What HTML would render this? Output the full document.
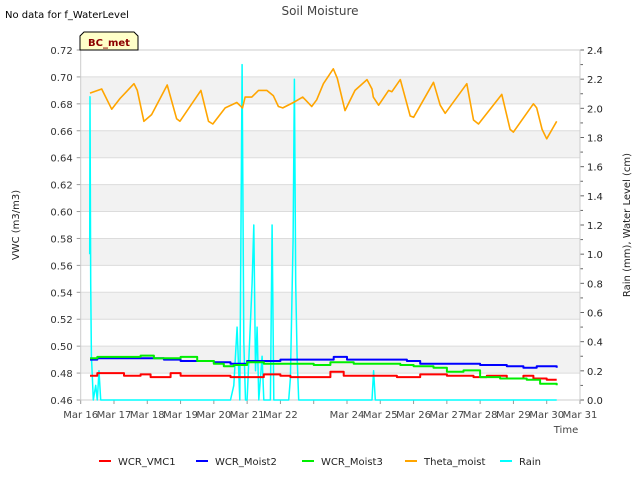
<!DOCTYPE html>
<html><head><meta charset="utf-8"><style>
body{margin:0;background:#fff;}
svg text{font-family:"DejaVu Sans","Liberation Sans",sans-serif;}
</style></head><body>
<svg id="c" width="640" height="480" xmlns="http://www.w3.org/2000/svg">
<text x="5" y="18" font-size="10" fill="#000">No data for f_WaterLevel</text>
<text x="320" y="15" font-size="12" fill="#444" text-anchor="middle">Soil Moisture</text>
<g id="plot"></g>
<text x="19" y="225" font-size="10" fill="#222" text-anchor="middle" transform="rotate(-90 19 225)">VWC (m3/m3)</text>
<text x="630" y="225" font-size="10" fill="#222" text-anchor="middle" transform="rotate(-90 630 225)">Rain (mm), Water Level (cm)</text>
<text x="566" y="433" font-size="10" fill="#444" text-anchor="middle">Time</text>
<g>
<path d="M80,50 L80,36 L84,32 L134,32 L138,36 L138,50 Z" fill="#ffffc8" stroke="#000" stroke-width="1"/>
<text x="109" y="46" font-size="10" font-weight="bold" fill="#8b0000" text-anchor="middle">BC_met</text>
</g>
<g id="legend"></g>
</svg>
<script>
const vwcTicks=[0.46,0.48,0.50,0.52,0.54,0.56,0.58,0.60,0.62,0.64,0.66,0.68,0.70,0.72];
const rainTicks=[0.0,0.2,0.4,0.6,0.8,1.0,1.2,1.4,1.6,1.8,2.0,2.2,2.4];
const dayLabels=["Mar 16","Mar 17","Mar 18","Mar 19","Mar 20","Mar 21","Mar 22","","Mar 24","Mar 25","Mar 26","Mar 27","Mar 28","Mar 29","Mar 30","Mar 31"];
const thetaT=[0.28,0.63,0.93,1.18,1.6,1.7,1.9,2.13,2.6,2.88,2.98,3.61,3.84,3.97,4.34,4.69,4.86,4.94,5.14,5.34,5.59,5.79,5.94,6.07,6.39,6.67,6.79,6.94,7.09,7.29,7.59,7.71,7.94,8.24,8.6,8.75,8.79,8.95,9.25,9.35,9.6,9.9,10.0,10.6,10.8,10.95,11.6,11.8,11.95,12.65,12.9,13.0,13.6,13.7,13.86,14.0,14.3];
const thetaV=[0.688,0.691,0.676,0.684,0.695,0.690,0.667,0.672,0.694,0.669,0.667,0.690,0.667,0.665,0.677,0.681,0.677,0.685,0.685,0.690,0.690,0.686,0.678,0.677,0.681,0.685,0.682,0.678,0.683,0.695,0.706,0.699,0.675,0.690,0.698,0.691,0.685,0.679,0.690,0.689,0.698,0.671,0.670,0.696,0.679,0.673,0.695,0.668,0.665,0.687,0.661,0.659,0.680,0.677,0.661,0.654,0.667];
const vmc1T=[0.28,0.5,1.3,1.8,2.1,2.7,3.0,3.9,4.5,5.5,6.0,6.3,7.5,7.9,8.5,9.5,10.2,11.0,11.8,12.2,12.8,13.3,13.6,14.0,14.3];
const vmc1V=[0.478,0.480,0.478,0.479,0.477,0.480,0.478,0.478,0.477,0.479,0.478,0.477,0.481,0.478,0.478,0.477,0.479,0.478,0.477,0.478,0.476,0.478,0.476,0.475,0.475];
const moist2T=[0.28,0.5,2.0,2.5,3.0,4.0,4.5,5.0,6.0,7.4,7.6,8.0,9.0,9.8,10.2,11.0,12.0,12.8,13.3,13.7,14.3];
const moist2V=[0.490,0.491,0.491,0.490,0.489,0.488,0.487,0.489,0.490,0.490,0.492,0.490,0.490,0.489,0.487,0.487,0.486,0.485,0.484,0.485,0.484];
const moist3T=[0.28,0.5,1.5,1.8,2.2,3.0,3.5,4.0,4.3,4.6,5.0,5.5,6.0,7.0,7.5,8.2,9.0,9.6,10.0,10.6,11.0,11.5,12.0,12.6,13.4,13.8,14.3];
const moist3V=[0.491,0.492,0.492,0.493,0.491,0.492,0.489,0.487,0.485,0.486,0.488,0.487,0.487,0.486,0.488,0.487,0.487,0.486,0.485,0.484,0.481,0.482,0.477,0.476,0.475,0.472,0.471];
const rainT=[0.27,0.28,0.30,0.32,0.35,0.38,0.45,0.5,0.55,0.6,0.7,1.0,4.5,4.6,4.7,4.78,4.85,4.9,4.95,5.0,5.15,5.2,5.25,5.3,5.35,5.45,5.5,5.55,5.7,5.75,5.8,6.25,6.3,6.38,6.42,6.46,6.5,6.55,6.6,8.75,8.8,8.85,14.3];
const rainV=[1.0,2.08,0.8,0.3,0.15,0.0,0.1,0.0,0.2,0.0,0.0,0.0,0.0,0.1,0.5,0.0,2.3,0.4,0.0,0.0,0.8,1.2,0.2,0.5,0.0,0.3,0.0,0.0,0.0,1.2,0.0,0.0,0.15,1.1,2.2,0.8,0.3,0.0,0.0,0.0,0.2,0.0,0.0];
const L=80.7,R=580,T=50,B=400;
const xs=d=>L+d*(R-L)/15;
const yl=v=>B-(v-0.46)/(0.26)*(B-T);
const yr=v=>B-v/2.4*(B-T);
const NS="http://www.w3.org/2000/svg";
const plot=document.getElementById('plot');
function mk(tag,attrs,parent){const e=document.createElementNS(NS,tag);for(const k in attrs)e.setAttribute(k,attrs[k]);(parent||plot).appendChild(e);return e;}
for(let i=0;i<vwcTicks.length-1;i++){
  if(i%2===1){const r=mk('rect',{x:L,y:yl(vwcTicks[i+1]),width:R-L,height:yl(vwcTicks[i])-yl(vwcTicks[i+1]),fill:'#f2f2f2'});
  
  }
}
vwcTicks.forEach(v=>{
  const g=mk('line',{x1:L,x2:R,y1:yl(v),y2:yl(v),stroke:'#dcdcdc','stroke-width':1});
  
  
  const t=mk('text',{x:L-8,y:yl(v)+4,'font-size':10,fill:'#333','text-anchor':'end'});t.textContent=v.toFixed(2);
  
  
  mk('line',{x1:L-4,x2:L,y1:yl(v),y2:yl(v),stroke:'#999'});
});
rainTicks.forEach((v,i)=>{
  const t=mk('text',{x:R+7,y:yr(v)+4,'font-size':10,fill:'#222'});t.textContent=v.toFixed(1);
  
  
  mk('line',{x1:R,x2:R+4,y1:yr(v),y2:yr(v),stroke:'#666'});
  if(i<rainTicks.length-1){const m=(v+rainTicks[i+1])/2;mk('line',{x1:R,x2:R+3,y1:yr(m),y2:yr(m),stroke:'#666'});}
});
dayLabels.forEach((s,i)=>{
  mk('line',{x1:xs(i),x2:xs(i),y1:B,y2:B+4,stroke:'#999'});
  if(s){const t=mk('text',{x:xs(i),y:B+18,'font-size':10,fill:'#444','text-anchor':'middle'});t.textContent=s;
  
  }
});
mk('rect',{x:L,y:T,width:R-L,height:B-T,fill:'none',stroke:'#ccc'});
function line(ts,vs,yf,color,name,w,step){
  let d='';
  ts.forEach((t,i)=>{
    const x=xs(t).toFixed(1),y=yf(vs[i]).toFixed(1);
    if(!i)d+='M'+x+','+y;
    else if(step)d+='H'+x+'V'+y;
    else d+='L'+x+','+y;
  });
  const p=mk('path',{d:d,fill:'none',stroke:color,'stroke-width':w||2,'stroke-linejoin':'round'});
  
  
}
line(rainT,rainV,yr,'#00ffff','rain-series',1.5);
line(vmc1T,vmc1V,yl,'#ff0000','wcr-vmc1-series',2,true);
line(moist2T,moist2V,yl,'#0000ff','wcr-moist2-series',2,true);
line(moist3T,moist3V,yl,'#00ee00','wcr-moist3-series',2,true);
line(thetaT,thetaV,yl,'#ffa500','theta-moist-series',1.6);
const legNames=["WCR_VMC1","WCR_Moist2","WCR_Moist3","Theta_moist","Rain"];
const legColors=["#ff0000","#0000ff","#00ee00","#ffa500","#00ffff"];
const legX=[99,196,302,405,500];
const lg=document.getElementById('legend');
legNames.forEach((n,i)=>{
  const g=mk('g',{},lg);
  
  
  mk('line',{x1:legX[i],x2:legX[i]+12,y1:461,y2:461,stroke:legColors[i],'stroke-width':2},g);
  const t=mk('text',{x:legX[i]+19,y:465,'font-size':10,fill:'#222'},g);t.textContent=n;
});
</script>
</body></html>
